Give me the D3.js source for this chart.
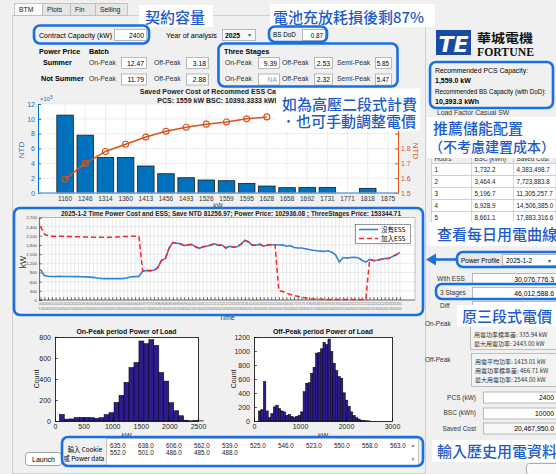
<!DOCTYPE html>
<html><head><meta charset="utf-8">
<script src="https://cdn.jsdelivr.net/npm/d3@7"></script>
<style>html,body{margin:0;padding:0;background:#f0f0f0;overflow:hidden}svg{display:block}</style>
</head><body>
<svg id="c" width="556" height="474"></svg>
<script>
// ---------------- DATA ----------------
const tabNames = ["BTM", "Plots", "Fin", "Selling"];
const contractCapacity = ["2400"];
const yearOfAnalysis = ["2025"];
const bsDoD = ["0.87"];
const summerBatch = ["12.47", "3.18"];
const notSummerBatch = ["11.79", "2.88"];
const threeStageSummer = ["9.39", "2.53", "5.85"];
const threeStageNotSummer = ["NA", "2.32", "5.47"];

const barCategories = ["1160","1246","1314","1360","1413","1456","1493","1526","1559","1595","1628","1658","1692","1731","1771","1818","1875"];
const savedPowerCost = [10.5, 7.8, 4.8, 4.8, 3.64, 2.6, 2.06, 1.75, 1.66, 1.3, 0.94, 0.72, 0.76, 0.76, 0, 0.63, 0]; // x10^5 NTD
const cumulativeSaved = [1.593, 1.700, 1.780, 1.829, 1.877, 1.916, 1.943, 1.964, 1.979, 2.000, 2.013]; // x10^7 NTD
const leftTicks = [0, 2, 4, 6, 8, 10, 12];
const rightTicks = [1.5, 1.6, 1.7, 1.8, 1.9, 2.0, 2.1];

const loadNoESS = [1000,800,775,770,770,772,770,768,770,765,765,760,758,750,740,720,705,700,700,705,700,700,705,730,760,765,770,940,965,960,975,1060,1300,1350,1700,1880,1860,1840,1780,1810,1820,1740,1690,1740,1760,1800,1840,1790,1800,1700,1760,1730,1740,1830,1950,1900,1790,1800,1820,1760,1800,1810,1810,1800,1810,1760,1780,1720,1700,1700,1680,1650,1630,1610,1600,1590,1610,1560,1480,1240,1390,1370,1390,1400,1380,1300,1240,1330,1290,1300,1330,1360,1360,1420,1480,1560];
const loadWithESS = [2420,2154,2100,2090,2090,2085,2085,2080,2075,2070,2070,2065,2060,2060,2055,2050,2050,2050,2055,2060,2065,2070,2075,2080,2085,2085,2090,940,965,960,975,1060,1300,1350,1700,1880,1860,1840,1780,1810,1820,1740,1690,1740,1760,1800,1840,1790,1800,1700,1760,1730,1740,1830,1950,1900,1790,1800,1820,1760,1800,1810,1810,300,280,230,180,150,120,90,70,50,35,30,25,20,20,20,20,20,20,20,20,20,20,20,20,1330,1290,1300,1330,1360,1360,1420,1480,1560];
const loadTicks = [0,300,600,900,1200,1500,1800,2100,2400,2700];
const timeLabels = d3.range(96).map(i => { const m = (i + 1) * 15; return [String(Math.floor(m / 60) % 24).padStart(2, "0"), String(m % 60).padStart(2, "0")]; });

const onPeakBinStart = 75, onPeakBinWidth = 87;
const onPeakCounts = [63,18,20,33,35,35,32,26,32,62,80,177,245,368,510,557,762,737,775,720,462,380,175,98,50,8,2,3,2];
const onPeakXTicks = [0,500,1000,1500,2000,2500];
const onPeakYTicks = [0,200,400,600,800];
const offPeakBinStart = 95, offPeakBinWidth = 54;
const offPeakCounts = [144,163,562,144,48,106,202,226,178,144,130,82,96,67,48,67,82,130,418,538,547,682,768,970,979,1032,1123,1090,1171,994,826,720,634,610,403,298,211,130,82,48,29,10,4,3,2];
const offPeakXTicks = [0,1000,2000,3000];
const offPeakYTicks = [0,200,400,600,800,1000,1200];

const recHours = ["1","2","3","4","5"];
const recBSC = ["1,732.2","3,464.4","5,196.7","6,928.9","8,661.1"];
const recSaved = ["4,383,498.7","7,723,883.8","11,305,257.7","14,506,385.0","17,883,316.6"];

const powerRow1 = ["635.0","638.0","606.0","562.0","539.0","525.0","546.0","523.0","550.0","558.0","563.0"];
const powerRow2 = ["552.0","501.0","486.0","485.0","488.0"];

// ---------------- HELPERS ----------------
const FONT = "'Liberation Sans', Arial, sans-serif";
const CJK = "'Noto Sans CJK TC', 'Noto Sans CJK SC', sans-serif";
const BOX = "#1b6fe4";
const ANNO = "#1d5bc9";
const svg = d3.select("#c");

function text(g, x, y, s, o = {}) {
  const el = g.append("text").attr("x", x).attr("y", y).text(s)
    .attr("font-family", o.family || FONT).attr("font-size", o.size || 6.8)
    .attr("fill", o.color || "#000").attr("font-weight", o.weight || "normal")
    .attr("text-anchor", o.anchor || "start");
  if (o.len) el.attr("textLength", o.len).attr("lengthAdjust", "spacingAndGlyphs");
  if (o.rotate !== undefined) el.attr("transform", `rotate(${o.rotate},${x},${y})`);
  return el;
}
function input(g, x, y, w, h, val, o = {}) {
  g.append("rect").attr("x", x + 0.5).attr("y", y + 0.5).attr("width", w).attr("height", h)
    .attr("fill", o.fill || "#fff").attr("stroke", "#a9a9a9").attr("stroke-width", 0.8);
  if (val !== undefined) text(g, o.anchor === "middle" ? x + w / 2 : x + w - 2, y + h - 2.3, val,
    { size: o.size || 6.8, anchor: o.anchor || "end", color: o.color || "#000" });
}
function rrect(g, x, y, w, h, o = {}) {
  return g.append("rect").attr("x", x).attr("y", y).attr("width", w).attr("height", h)
    .attr("rx", o.rx || 0).attr("fill", o.fill || "none").attr("stroke", o.stroke || "none")
    .attr("stroke-width", o.sw || 1);
}

// ---------------- BACKGROUND / TABS ----------------
rrect(svg, 0, 0, 556, 474, { fill: "#f0f0f0" });
rrect(svg, 12.5, 15.5, 413, 458, { fill: "#f0f0f0", stroke: "#cfcfcf", sw: 1 });
const tabX = [14, 42, 70, 95, 127];
tabNames.forEach((n, i) => {
  rrect(svg, tabX[i] + 0.5, 3.5, tabX[i + 1] - tabX[i], 12, { fill: i === 0 ? "#fbfbfb" : "#e6e6e6", stroke: "#b9b9b9", sw: 0.8 });
  text(svg, tabX[i] + 5, 12, n, { size: 6.8, color: "#222" });
});

// ---------------- CONTROLS ----------------
const ctl = svg.append("g");
text(ctl, 39, 37.5, "Contract Capacity (kW)", { len: 73 });
input(ctl, 114, 29, 32, 11, contractCapacity[0]);
text(ctl, 166, 37.5, "Year of analysis", { len: 51 });
input(ctl, 222, 29, 33, 11, undefined, { fill: "#f7f7f7" });
text(ctl, 225, 37.5, yearOfAnalysis[0], { weight: "bold" });
text(ctl, 248, 37, "▾", { size: 6, color: "#555" });
text(ctl, 273, 37, "BS DoD", { size: 6.3 });
input(ctl, 302, 29, 23, 11, bsDoD[0], { size: 6.3 });

text(ctl, 39, 53.5, "Power Price", { weight: "bold", size: 7.2 });
text(ctl, 89, 53.5, "Batch", { weight: "bold", size: 7.2 });
text(ctl, 43, 64.5, "Summer", { weight: "bold", size: 7.2 });
text(ctl, 41, 81, "Not Summer", { weight: "bold", size: 7.2 });
[[64.5, 57, summerBatch], [81, 73.5, notSummerBatch]].forEach(([ty, iy, vals]) => {
  text(ctl, 89, ty, "On-Peak", { color: "#333" });
  input(ctl, 121, iy, 25, 11, vals[0]);
  text(ctl, 154, ty, "Off-Peak", { color: "#333" });
  input(ctl, 186, iy, 22, 11, vals[1]);
});
text(ctl, 224, 53.5, "Three Stages", { weight: "bold", size: 7.2 });
[[64.5, 57, threeStageSummer], [81, 73.5, threeStageNotSummer]].forEach(([ty, iy, vals]) => {
  text(ctl, 225, ty, "On-Peak", { color: "#333" });
  input(ctl, 258, iy, 21, 11, vals[0], { color: vals[0] === "NA" ? "#999" : "#000" });
  text(ctl, 282, ty, "Off-Peak", { color: "#333" });
  input(ctl, 314, iy, 18, 11, vals[1]);
  text(ctl, 337, ty, "Semi-Peak", { color: "#333" });
  input(ctl, 375, iy, 16, 11, vals[2], { size: 6.3 });
});

// ---------------- BAR CHART ----------------
(function () {
  const g = svg.append("g");
  const x0 = 38, x1 = 398, y0 = 104, y1 = 193;
  rrect(g, x0, y0, x1 - x0, y1 - y0, { fill: "#fff" });
  const xb = d3.scaleBand().domain(barCategories).range([55, 398]).paddingInner(0.18).paddingOuter(0.09);
  const yl = d3.scaleLinear().domain([0, 12]).range([y1, y0]);
  const yr = d3.scaleLinear().domain([1.5, 2.1]).range([y1, y0]);
  const cx = c => xb(c) + xb.bandwidth() / 2;
  g.selectAll("line.hg").data(leftTicks).join("line").attr("x1", x0).attr("x2", x1)
    .attr("y1", d => yl(d)).attr("y2", d => yl(d)).attr("stroke", "#e3e3e3").attr("stroke-width", 0.6);
  g.selectAll("line.vg").data(barCategories).join("line").attr("x1", cx).attr("x2", cx)
    .attr("y1", y0).attr("y2", y1).attr("stroke", "#e3e3e3").attr("stroke-width", 0.6);
  g.selectAll("rect.bar").data(barCategories.map((c, i) => [c, savedPowerCost[i]]).filter(d => d[1] > 0)).join("rect")
    .attr("x", d => xb(d[0])).attr("width", xb.bandwidth()).attr("y", d => yl(d[1])).attr("height", d => yl(0) - yl(d[1]))
    .attr("fill", "#0072BD").attr("stroke", "#1c1c1c").attr("stroke-width", 0.8);
  const line = d3.line().x((d, i) => cx(barCategories[i])).y(d => yr(d));
  g.append("path").attr("d", line(cumulativeSaved)).attr("fill", "none").attr("stroke", "#D95319").attr("stroke-width", 1.5);
  g.selectAll("circle").data(cumulativeSaved).join("circle").attr("cx", (d, i) => cx(barCategories[i])).attr("cy", d => yr(d))
    .attr("r", 3).attr("fill", "none").attr("stroke", "#D95319").attr("stroke-width", 1.1);
  const la = g.append("g").attr("transform", `translate(${x0},0)`).call(d3.axisLeft(yl).tickValues(leftTicks).tickSize(-3).tickPadding(3).tickFormat(d3.format("d")));
  la.selectAll("path,line").attr("stroke", "#0072BD");
  la.selectAll("text").attr("fill", "#2a6fb0").attr("font-size", 7).attr("font-family", FONT);
  const ra = g.append("g").attr("transform", `translate(${x1},0)`).call(d3.axisRight(yr).tickValues(rightTicks).tickSize(-3).tickPadding(3)
    .tickFormat(d => d < 1.85 ? d3.format(".1f")(d) : ""));
  ra.selectAll("path,line").attr("stroke", "#D95319");
  ra.selectAll("text").attr("fill", "#D95319").attr("font-size", 7).attr("font-family", FONT);
  const ba = g.append("g").attr("transform", `translate(0,${y1})`).call(d3.axisBottom(xb).tickSize(0).tickPadding(3));
  ba.select("path").attr("stroke", "#6ea6db").attr("stroke-width", 1.5).attr("d", `M${x0},0H${x1}`);
  ba.selectAll("text").attr("fill", "#333").attr("font-size", 6.5).attr("font-family", FONT);
  const ex = text(g, 40, 101, "×10", { size: 6, color: "#2a6fb0" });
  ex.append("tspan").attr("dy", -2.5).attr("font-size", 4.5).text("5");
  text(g, 24, 150, "NTD", { size: 8, color: "#2a6fb0", anchor: "middle", rotate: -90 });
  text(g, 413, 151, "NTD", { size: 8, color: "#D95319", anchor: "middle", rotate: 90 });
  text(g, 218, 94, "Saved Power Cost of Recommed ESS Capacity", { size: 7, weight: "bold", anchor: "middle", color: "#222" });
  text(g, 218, 102.5, "PCS: 1559 kW  BSC: 10393.3333 kWh", { size: 7, weight: "bold", anchor: "middle", color: "#222" });
  text(g, 218, 208, "kW", { size: 6.5, anchor: "middle", color: "#333" });
})();

// ---------------- LINE CHART ----------------
(function () {
  const g = svg.append("g");
  const x0 = 39, x1 = 415, y0 = 217.5, y1 = 300;
  rrect(g, x0, y0, x1 - x0, y1 - y0, { fill: "#fff" });
  const x = d3.scaleLinear().domain([0, 99]).range([40.5, 415]);
  const y = d3.scaleLinear().domain([0, 2700]).range([y1, y0]);
  const idx = d3.range(loadNoESS.length);
  g.selectAll("line.vg").data(idx).join("line").attr("x1", d => x(d)).attr("x2", d => x(d))
    .attr("y1", y0).attr("y2", y1).attr("stroke", "#d6d6d6").attr("stroke-width", 0.5);
  g.selectAll("line.hg").data(loadTicks).join("line").attr("x1", x0).attr("x2", x1)
    .attr("y1", d => y(d)).attr("y2", d => y(d)).attr("stroke", "#d6d6d6").attr("stroke-width", 0.5);
  const ba = g.append("g").attr("transform", `translate(0,${y1})`).call(d3.axisBottom(x).tickValues(idx).tickSize(-3).tickFormat(""));
  ba.select("path").attr("stroke", "#333").attr("stroke-width", 0.7).attr("d", `M${x0},0H${x1}`);
  ba.selectAll("line").attr("stroke", "#222").attr("stroke-width", 0.6);
  g.selectAll("text.tl1").data(idx).join("text").attr("x", d => x(d)).attr("y", 304.5).text(d => timeLabels[d][0])
    .attr("font-size", 3.6).attr("font-family", FONT).attr("fill", "#777").attr("text-anchor", "middle");
  g.selectAll("text.tl2").data(idx).join("text").attr("x", d => x(d)).attr("y", 309.5).text(d => timeLabels[d][1])
    .attr("font-size", 3.6).attr("font-family", FONT).attr("fill", "#777").attr("text-anchor", "middle");
  const la = g.append("g").attr("transform", `translate(${x0},0)`).call(d3.axisLeft(y).tickValues(loadTicks).tickSize(-3).tickPadding(2));
  la.select("path").attr("stroke", "#333").attr("stroke-width", 0.7);
  la.selectAll("line").attr("stroke", "#333").attr("stroke-width", 0.6);
  la.selectAll("text").attr("font-size", 4.3).attr("font-family", FONT).attr("fill", "#444");
  g.append("line").attr("x1", x0).attr("x2", x1).attr("y1", y0).attr("y2", y0).attr("stroke", "#888").attr("stroke-width", 0.5);
  g.append("line").attr("x1", x1).attr("x2", x1).attr("y1", y0).attr("y2", y1).attr("stroke", "#888").attr("stroke-width", 0.5);
  const ln = d3.line().x((d, i) => x(i)).y(d => y(d));
  g.append("path").attr("d", ln(loadNoESS)).attr("fill", "none").attr("stroke", "#2a86d6").attr("stroke-width", 1.6);
  g.append("path").attr("d", ln(loadWithESS)).attr("fill", "none").attr("stroke", "#ff2424").attr("stroke-width", 1.5).attr("stroke-dasharray", "5,3");
  rrect(g, 355.5, 224.5, 55, 19, { fill: "#fff", stroke: "#555", sw: 0.6 });
  g.append("line").attr("x1", 359).attr("x2", 378).attr("y1", 229.5).attr("y2", 229.5).attr("stroke", "#2a86d6").attr("stroke-width", 1.6);
  g.append("line").attr("x1", 359).attr("x2", 378).attr("y1", 238.5).attr("y2", 238.5).attr("stroke", "#ff2424").attr("stroke-width", 1.5).attr("stroke-dasharray", "5,3");
  text(g, 381, 232, "沒有ESS", { size: 6.5, family: CJK });
  text(g, 381, 241, "加入ESS", { size: 6.5, family: CJK });
  text(g, 231, 215.5, "2025-1-2 Time Power Cost and ESS; Save NTD 81256.97; Power Price: 102936.08 ; ThreeStages Price: 153344.71",
    { size: 6.4, weight: "bold", anchor: "middle", len: 340, color: "#222" });
  text(g, 26, 262, "kW", { size: 8.5, anchor: "middle", rotate: -90, color: "#333" });
  text(g, 227, 320, "Time", { size: 7, anchor: "middle", color: "#333" });
})();

// ---------------- HISTOGRAMS ----------------
function hist(x0, x1, y0, y1, xMax, yMax, xTicks, yTicks, start, width, counts, title, countX) {
  const g = svg.append("g");
  const x = d3.scaleLinear().domain([0, xMax]).range([x0, x1]);
  const y = d3.scaleLinear().domain([0, yMax]).range([y1, y0]);
  rrect(g, x0, y0, x1 - x0, y1 - y0, { fill: "#fff" });
  g.selectAll("rect.bar").data(counts).join("rect")
    .attr("x", (d, i) => x(start + i * width)).attr("width", (d, i) => x(start + (i + 1) * width) - x(start + i * width))
    .attr("y", d => y(d)).attr("height", d => y(0) - y(d))
    .attr("fill", "#2d1c8e").attr("stroke", "#000").attr("stroke-width", 0.5);
  const ba = g.append("g").attr("transform", `translate(0,${y1})`).call(d3.axisBottom(x).tickValues(xTicks).tickSize(-3).tickPadding(3).tickFormat(d3.format("d")));
  const la = g.append("g").attr("transform", `translate(${x0},0)`).call(d3.axisLeft(y).tickValues(yTicks).tickSize(-3).tickPadding(4).tickFormat(d3.format("d")));
  [ba, la].forEach(a => {
    a.selectAll("path").remove();
    a.selectAll("line").attr("stroke", "#000").attr("stroke-width", 0.6);
    a.selectAll("text").attr("font-size", 7).attr("font-family", FONT).attr("fill", "#222");
  });
  rrect(g, x0 + 0.5, y0 + 0.5, x1 - x0, y1 - y0, { stroke: "#000", sw: 0.8 });
  text(g, (x0 + x1) / 2, 333.5, title, { size: 7, weight: "bold", anchor: "middle", len: 100, color: "#111" });
  text(g, countX, (y0 + y1) / 2, "Count", { size: 7, anchor: "middle", rotate: -90, color: "#222" });
  text(g, (x0 + x1) / 2, 438, "kW", { size: 7, anchor: "middle", color: "#222" });
}
hist(55, 198, 337, 421, 2500, 800, onPeakXTicks, onPeakYTicks, onPeakBinStart, onPeakBinWidth, onPeakCounts, "On-Peak period Power of Load", 39);
hist(254, 392, 337, 421, 3000, 1200, offPeakXTicks, offPeakYTicks, offPeakBinStart, offPeakBinWidth, offPeakCounts, "Off-Peak period Power of Load", 236);

// ---------------- BOTTOM DATA TABLE ----------------
(function () {
  const g = svg.append("g");
  rrect(g, 25.5, 452.5, 36, 13, { fill: "#fcfcfc", stroke: "#8a8a8a", sw: 0.8, rx: 3 });
  text(g, 43.5, 461.5, "Launch", { anchor: "middle", size: 7 });
  text(g, 85, 452, "輸入 Cookie", { anchor: "middle", size: 6.3, family: CJK });
  text(g, 84, 460.5, "或 Power data", { anchor: "middle", size: 6.3, family: CJK });
  rrect(g, 106.5, 438.5, 312, 27, { fill: "#fff", stroke: "#b0b0b0", sw: 0.7 });
  powerRow1.forEach((v, i) => text(g, 110 + i * 28, 447.5, v, { size: 6.3, color: "#222" }));
  powerRow2.forEach((v, i) => text(g, 110 + i * 28, 454.5, v, { size: 6.3, color: "#222" }));
  text(g, 413, 447, "▲", { size: 5, anchor: "middle", color: "#888" });
  text(g, 413, 461, "▼", { size: 5, anchor: "middle", color: "#888" });
})();

// ---------------- RIGHT PANEL ----------------
(function () {
  const g = svg.append("g");
  rrect(g, 436, 30, 35, 25, { fill: "#1a4aa8" });
  text(g, 453.5, 51.5, "TE", { size: 22, weight: "bold", color: "#fff", anchor: "middle", family: "'DejaVu Sans', sans-serif" }).attr("font-style", "italic");
  text(g, 477, 43, "華城電機", { size: 12, weight: "bold", family: CJK, len: 56, color: "#111" });
  text(g, 477, 55.5, "FORTUNE", { size: 12, weight: "bold", family: "'Liberation Serif', 'DejaVu Serif', serif", len: 57, color: "#111" });
  text(g, 435, 72.5, "Recommended PCS Capacity:", { len: 93 });
  text(g, 435, 82.5, "1,559.0 kW", { weight: "bold", size: 7 });
  text(g, 435, 94, "Recommended BS Capacity (with DoD):", { len: 111 });
  text(g, 435, 103.5, "10,393.3 kWh", { weight: "bold", size: 7 });
  text(g, 437, 115, "Load Factor Casual SW", { size: 6.8, color: "#333" });
  const tx = [431.5, 471.5, 513.5, 556], ty0 = 151.5, rh = 12;
  rrect(g, tx[0], ty0, tx[3] - tx[0], rh, { fill: "#eeeeee", stroke: "#bdbdbd", sw: 0.6 });
  ["Hours", "BSC (kWh)", "Saved Cost"].forEach((h, i) => text(g, tx[i] + 3, ty0 + 9, h, { size: 6.3, color: "#333" }));
  recHours.forEach((h, r) => {
    const yy = ty0 + rh * (r + 1);
    rrect(g, tx[0], yy, tx[3] - tx[0], rh, { fill: "#fff", stroke: "#bdbdbd", sw: 0.6 });
    [h, recBSC[r], recSaved[r]].forEach((v, i) => text(g, tx[i] + 3, yy + 8.5, v, { size: 6.3, color: "#222" }));
  });
  [tx[1], tx[2]].forEach(xx => g.append("line").attr("x1", xx).attr("x2", xx).attr("y1", ty0).attr("y2", ty0 + rh * 6).attr("stroke", "#bdbdbd").attr("stroke-width", 0.6));
  rrect(g, 458, 253, 98, 13, { fill: "#e9e9e9" });
  text(g, 461, 262.5, "Power Profile", { size: 6.5 });
  input(g, 502, 254, 54, 11, undefined);
  text(g, 506, 262.5, "2025-1-2", { size: 6.5 });
  text(g, 548, 262.5, "▾", { size: 6, color: "#555" });
  text(g, 437, 281, "With ESS", { size: 6.5, color: "#333" });
  input(g, 472, 273, 84, 11, "30,076,776.3");
  text(g, 440, 295, "3 Stages", { size: 6.5, color: "#333" });
  input(g, 472, 287, 84, 11, "46,012,588.6");
  text(g, 440, 308, "Diff", { size: 6.5, color: "#333" });
  input(g, 472, 301, 84, 11, undefined);
  text(g, 425, 325.5, "On-Peak", { size: 6.5, color: "#333" });
  rrect(g, 470.5, 318.5, 86, 31, { fill: "#f3f3f3", stroke: "#a9a9a9", sw: 0.7 });
  text(g, 474, 336.8, "用電功率標準差: 335.94 kW", { size: 6, family: CJK, color: "#333" });
  text(g, 474, 345.8, "最大用電功率: 2443.00 kW", { size: 6, family: CJK, color: "#333" });
  text(g, 425, 362, "Off-Peak", { size: 6.5, color: "#333" });
  rrect(g, 471.5, 353.5, 85, 33, { fill: "#f3f3f3", stroke: "#a9a9a9", sw: 0.7 });
  text(g, 475, 363.5, "用電平均功率: 1415.01 kW", { size: 6, family: CJK, color: "#333" });
  text(g, 475, 372.5, "用電功率標準差: 466.71 kW", { size: 6, family: CJK, color: "#333" });
  text(g, 475, 381.5, "最大用電功率: 2544.00 kW", { size: 6, family: CJK, color: "#333" });
  text(g, 476, 399.5, "PCS (kW)", { size: 6.5, anchor: "end", color: "#333" });
  input(g, 483, 391.5, 73, 11, "2400");
  text(g, 476, 415, "BSC (kWh)", { size: 6.5, anchor: "end", color: "#333" });
  input(g, 483, 407.5, 73, 11, "10000");
  text(g, 476, 430.5, "Saved Cost", { size: 6.5, anchor: "end", color: "#333" });
  input(g, 483, 422.5, 73, 11, "20,467,950.0", { fill: "#f8f8f8" });
  rrect(g, 526.5, 463.5, 40, 12, { fill: "#fafafa", stroke: "#999", sw: 0.8, rx: 3 });
})();

// ---------------- ANNOTATIONS ----------------
(function () {
  const g = svg.append("g");
  const anno = (bx, by, bw, bh, lines) => {
    rrect(g, bx, by, bw, bh, { fill: "#fff" });
    lines.forEach(([x, y, s, sz]) => text(g, x, y, s, { size: sz || 15, family: CJK, color: ANNO, weight: 500 }));
  };
  anno(139, 5, 74, 22, [[145, 22.5, "契約容量"]]);
  anno(270, 4, 165, 23, [[273, 22.5, "電池充放耗損後剩87%"]]);
  anno(276, 88.5, 144, 42.5, [[282, 109.5, "如為高壓二段式計費"], [281, 126.5, "．也可手動調整電價"]]);
  anno(427, 117, 129, 41, [[433, 134, "推薦儲能配置"], [429, 152, "（不考慮建置成本）", 14]]);
  anno(428, 222, 128, 24, [[437, 240, "查看每日用電曲線"]]);
  anno(457, 305, 99, 21.5, [[462, 321.5, "原三段式電價"]]);
  anno(432, 440, 124, 22, [[437, 456.5, "輸入歷史用電資料"]]);
})();

// ---------------- HIGHLIGHT BOXES ----------------
(function () {
  const g = svg.append("g");
  const hb = (x, y, w, h) => rrect(g, x, y, w, h, { stroke: BOX, sw: 2.6, rx: 6 });
  hb(34, 25.5, 115, 18);
  hb(269, 26.5, 58, 15.5);
  hb(218.5, 43.5, 179, 43);
  hb(430, 62, 123, 46);
  hb(14, 208, 409, 107);
  hb(457, 252, 104, 15);
  hb(436, 284, 125, 15);
  hb(62, 437, 361, 29);
  g.append("line").attr("x1", 457).attr("x2", 433).attr("y1", 259.5).attr("y2", 259.5).attr("stroke", BOX).attr("stroke-width", 2.6);
  g.append("path").attr("d", "M426,259.5 L436,253.5 L436,265.5 Z").attr("fill", BOX);
})();
</script>
</body></html>
